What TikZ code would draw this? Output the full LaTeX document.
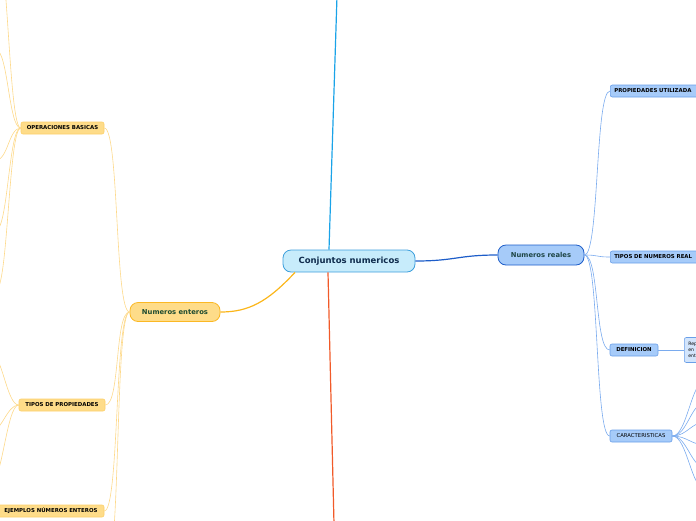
\documentclass[tikz,border=0pt]{standalone}
\usepackage{fontspec}
\setmainfont{DejaVu Sans}

\definecolor{cnavy}{HTML}{0F2C4D}
\definecolor{cskyfill}{HTML}{C7ECFB}
\definecolor{cskyline}{HTML}{3D9FDC}
\definecolor{cuplink}{HTML}{1AA3E8}
\definecolor{cdownlink}{HTML}{F15A29}
\definecolor{crealfill}{HTML}{A6CBF9}
\definecolor{crealline}{HTML}{1D5DC9}
\definecolor{crealtext}{HTML}{1E4646}
\definecolor{cbluesub}{HTML}{7AABEE}
\definecolor{cbluesubline}{HTML}{6A9FE8}
\definecolor{cbluepale}{HTML}{D3E5FC}
\definecolor{centfill}{HTML}{FEDC89}
\definecolor{centline}{HTML}{FBB824}
\definecolor{centtext}{HTML}{1E4B30}
\definecolor{corange}{HTML}{FBB61A}
\definecolor{corangesub}{HTML}{FDD98A}
\definecolor{corangesubline}{HTML}{FCD06A}

\tikzset{
  rootbox/.style={draw=cskyline, fill=cskyfill, line width=0.8pt, rounded corners=8pt,
    minimum width=132pt, minimum height=22pt, inner sep=0pt, text=cnavy,
    font=\fontsize{8.5}{10}\selectfont\bfseries},
  realbox/.style={draw=crealline, fill=crealfill, line width=0.8pt, rounded corners=8pt,
    minimum width=86pt, minimum height=20pt, inner sep=0pt, text=crealtext,
    font=\fontsize{6.8}{8}\selectfont\bfseries},
  entbox/.style={draw=centline, fill=centfill, line width=0.8pt, rounded corners=8pt,
    minimum width=90pt, minimum height=19pt, inner sep=0pt, text=centtext,
    font=\fontsize{6.8}{8}\selectfont\bfseries},
  bluesub/.style={draw=cbluesubline, fill=crealfill, line width=0.6pt, rounded corners=2pt,
    minimum height=12pt, inner ysep=0pt, inner xsep=4pt,
    font=\fontsize{5.4}{6}\selectfont\bfseries},
  orangesub/.style={draw=corangesubline, fill=centfill, line width=0.6pt, rounded corners=2pt,
    minimum height=12pt, inner ysep=0pt, inner xsep=4pt,
    font=\fontsize{5.4}{6}\selectfont\bfseries},
  mainlink/.style={line width=1.2pt},
  sublink/.style={line width=0.6pt}
}

\begin{document}
\begin{tikzpicture}[x=1pt,y=-1pt]
\useasboundingbox (0,0) rectangle (696,520);
\clip (0,0) rectangle (696,520);

% Main topic and its branches
\node[rootbox] (cn) at (349,261) {Conjuntos numericos};
\node[realbox] (nr) at (541,255) {Numeros reales};
\node[entbox] (ne) at (175,312) {Numeros enteros};

\coordinate (up) at (337,-4);
\coordinate (down) at (334,524);

\draw[mainlink,cuplink] ([xshift=-20pt]cn.north) -- (up);
\draw[mainlink,cdownlink] ([xshift=-21pt]cn.south) -- (down);
\draw[mainlink,crealline] (cn.east) .. controls +(40,0) and +(-40,0) .. (nr.west);
\draw[mainlink,corange] ([xshift=-54pt]cn.south) .. controls +(-28,30) and +(28,0) .. (ne.east);

% Numeros reales
\node[bluesub, anchor=west, text width=100pt, align=left] (pu) at (610,91) {PROPIEDADES UTILIZADA};
\node[bluesub, anchor=west, text width=100pt, align=left] (tn) at (610,257) {TIPOS DE NUMEROS REAL};
\node[bluesub, minimum width=48pt] (de) at (634,350) {DEFINICION};
\node[bluesub, minimum width=62pt, font=\fontsize{5.3}{6}\selectfont] (ca) at (641,436) {CARACTERISTICAS};
\node[bluesub, fill=cbluepale, anchor=west, minimum height=25pt, text width=40pt, align=left,
  font=\fontsize{4.6}{6}\selectfont] (rep) at (684,350) {Rep\\en\\ent};

\foreach \n in {pu,tn,de,ca}
  \draw[sublink,cbluesub] (nr.east) .. controls +(15,0) and +(-15,0) .. (\n.west);
\draw[sublink,cbluesub] (de.east) -- (rep.west);

\foreach \y in {380,402,422,445,468,490}
  \draw[sublink,cbluesub] (ca.east) .. controls +(15,0) and +(-15,0) .. (706,\y);

% Numeros enteros
\node[orangesub, minimum width=83pt] (ob) at (62.5,128) {OPERACIONES BASICAS};
\node[orangesub, minimum width=86pt] (tp) at (62,405) {TIPOS DE PROPIEDADES};
\node[orangesub, minimum width=106pt] (ej) at (51,511) {EJEMPLOS NÚMEROS ENTEROS};
\coordinate (last) at (106,570);

\foreach \n in {ob,tp,ej}
  \draw[sublink,corangesub] (ne.west) .. controls +(-15,0) and +(15,0) .. (\n.east);
\draw[sublink,corangesub] (ne.west) .. controls +(-15,0) and +(15,0) .. (last);

\foreach \y in {-60,50,160,230,290}
  \draw[sublink,corangesub] (ob.west) .. controls +(-12,0) and +(12,0) .. (-4,\y);
\foreach \y in {352,432,485}
  \draw[sublink,corangesub] (tp.west) .. controls +(-12,0) and +(12,0) .. (-10,\y);

\end{tikzpicture}
\end{document}
